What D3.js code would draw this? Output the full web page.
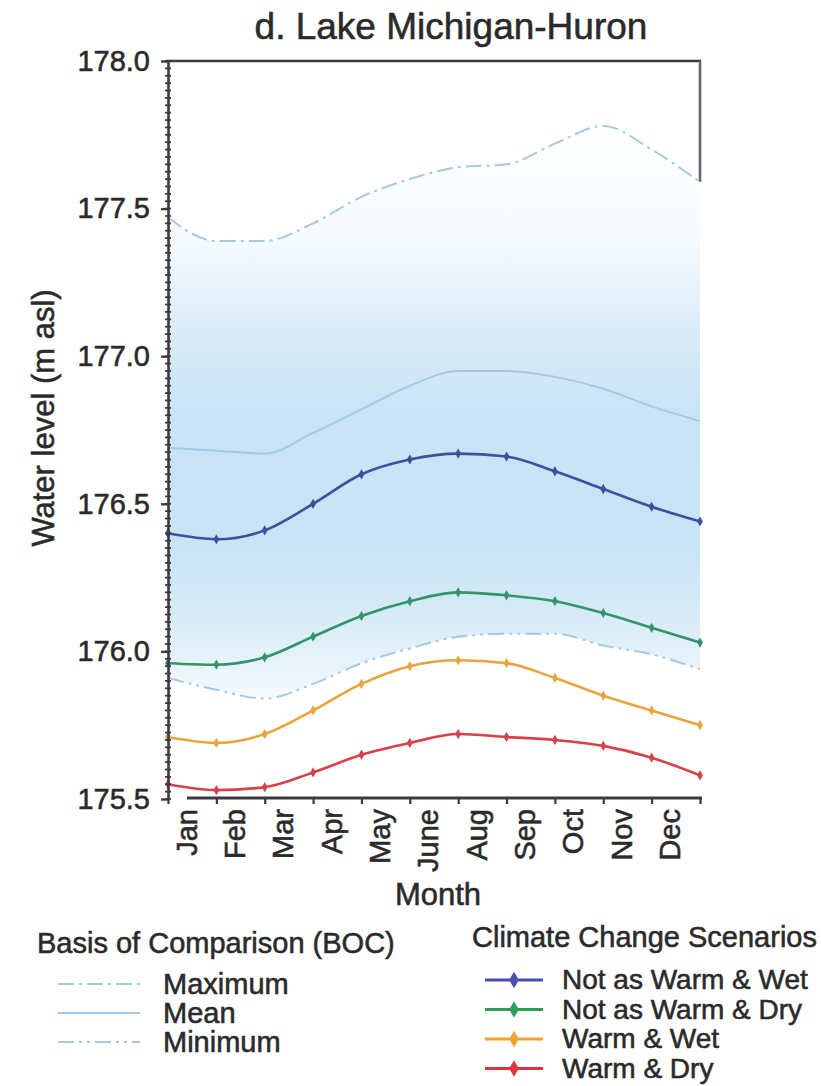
<!DOCTYPE html>
<html>
<head>
<meta charset="utf-8">
<script src="https://cdn.jsdelivr.net/npm/d3@7"></script>
<style>
  html, body { margin: 0; padding: 0; background: #ffffff; }
  svg { display: block; font-family: "Liberation Sans", Arial, Helvetica, sans-serif; }
  .lbl { stroke: #2a2a2a; stroke-width: 0.55px; paint-order: stroke; }
</style>
</head>
<body>
<svg id="chart" width="821" height="1086"></svg>
<script>
// Monthly water levels, Lake Michigan-Huron (m above sea level)
const months = ["Jan", "Feb", "Mar", "Apr", "May", "June", "July", "Aug", "Sep", "Oct", "Nov", "Dec"];
// Month labels as printed along the x axis
const tickLabels = ["Jan", "Feb", "Mar", "Apr", "May", "June", "Aug", "Sep", "Oct", "Nov", "Dec", ""];
const yTicks = [175.5, 176.0, 176.5, 177.0, 177.5, 178.0];

// Basis of Comparison (BOC)
const bocMax  = [177.47, 177.39, 177.39, 177.45, 177.54, 177.60, 177.64, 177.65, 177.72, 177.78, 177.70, 177.59];
const bocMean = [176.69, 176.68, 176.67, 176.74, 176.82, 176.90, 176.95, 176.95, 176.93, 176.89, 176.83, 176.78];
const bocMin  = [175.91, 175.87, 175.84, 175.89, 175.96, 176.01, 176.05, 176.06, 176.06, 176.02, 175.99, 175.94];

// Climate change scenarios
const notWarmWet = [176.40, 176.38, 176.41, 176.50, 176.60, 176.65, 176.67, 176.66, 176.61, 176.55, 176.49, 176.44];
const notWarmDry = [175.96, 175.955, 175.98, 176.05, 176.12, 176.17, 176.20, 176.19, 176.17, 176.13, 176.08, 176.03];
const warmWet    = [175.71, 175.69, 175.72, 175.80, 175.89, 175.95, 175.97, 175.96, 175.91, 175.85, 175.80, 175.75];
const warmDry    = [175.55, 175.53, 175.54, 175.59, 175.65, 175.69, 175.72, 175.71, 175.70, 175.68, 175.64, 175.58];

const bocNames = ["Maximum", "Mean", "Minimum"];
const scenarioNames = ["Not as Warm & Wet", "Not as Warm & Dry", "Warm & Wet", "Warm & Dry"];

// ---- styles ----
const scenarioColors = ["#3f4f9f", "#33946a", "#eaa43c", "#d9404a"];
const legendColors   = ["#4a4db3", "#2f9c5a", "#f0a332", "#e0333d"];
const bocColor = "#a3c9e4";
const bocDash = ["16,5,3,5", null, "16,5,3,5,3,5"];
const textColor = "#2a2a2a";
const frameColor = "#3c3a3e";

const svg = d3.select("#chart");
const plot = { left: 168, right: 700, top: 61, bottom: 799 };

const x = d3.scalePoint().domain(months).range([plot.left, plot.right]);
const y = d3.scaleLinear().domain([175.5, 178.0]).range([plot.bottom, plot.top]);

// ---- band gradient ----
const defs = svg.append("defs");
const grad = defs.append("linearGradient")
  .attr("id", "bocBand")
  .attr("gradientUnits", "userSpaceOnUse")
  .attr("x1", 0).attr("x2", 0)
  .attr("y1", y(177.8)).attr("y2", y(175.85));
[
  [0.00, "#ffffff"], [0.20, "#f6fbfe"], [0.30, "#e6f2fb"], [0.40, "#d5e9f7"],
  [0.50, "#cae4f6"], [0.72, "#c7e3f5"], [0.85, "#d5eaf7"], [0.94, "#e7f3fa"], [1.00, "#f4f9fd"]
].forEach(([o, c]) => grad.append("stop").attr("offset", o).attr("stop-color", c));

// ---- frame: top border and upper part of right border ----
svg.append("line")
  .attr("x1", plot.left - 2).attr("x2", plot.right + 1)
  .attr("y1", plot.top).attr("y2", plot.top)
  .attr("stroke", frameColor).attr("stroke-width", 2.6);
svg.append("line")
  .attr("x1", plot.right).attr("x2", plot.right)
  .attr("y1", plot.top).attr("y2", y(bocMax[bocMax.length - 1]))
  .attr("stroke", "#6a6470").attr("stroke-width", 2.6);

// ---- BOC envelope ----
const band = d3.area()
  .x((d, i) => x(months[i]))
  .y0((d, i) => y(bocMin[i]))
  .y1(d => y(d))
  .curve(d3.curveMonotoneX);
svg.append("path")
  .datum(bocMax)
  .attr("d", band)
  .attr("fill", "url(#bocBand)");

const line = d3.line()
  .x((d, i) => x(months[i]))
  .y(d => y(d))
  .curve(d3.curveMonotoneX);

[bocMax, bocMean, bocMin].forEach((s, k) => {
  svg.append("path")
    .datum(s)
    .attr("d", line)
    .attr("fill", "none")
    .attr("stroke", bocColor)
    .attr("stroke-width", 2)
    .attr("stroke-dasharray", bocDash[k]);
});

// ---- scenario lines with markers ----
const diamond = d3.symbol().type(d3.symbolDiamond);
[notWarmWet, notWarmDry, warmWet, warmDry].forEach((s, k) => {
  const g = svg.append("g");
  g.append("path")
    .datum(s)
    .attr("d", line)
    .attr("fill", "none")
    .attr("stroke", scenarioColors[k])
    .attr("stroke-width", 2.6);
  g.selectAll("path.pt")
    .data(s)
    .join("path")
    .attr("class", "pt")
    .attr("d", diamond.size(30))
    .attr("transform", (d, i) => `translate(${x(months[i])},${y(d)})`)
    .attr("fill", scenarioColors[k]);
});

// ---- y axis ----
const yAxisG = svg.append("g").attr("transform", `translate(${plot.left},0)`);
yAxisG.call(
  d3.axisLeft(y).tickValues(yTicks).tickFormat(d3.format(".1f"))
    .tickSizeInner(7).tickSizeOuter(0).tickPadding(11)
);
yAxisG.select(".domain").attr("stroke", frameColor).attr("stroke-width", 2.6);
yAxisG.selectAll(".tick line").attr("stroke", frameColor).attr("stroke-width", 2.4);
yAxisG.selectAll(".tick text")
  .attr("class", "lbl")
  .attr("font-size", 29).attr("fill", textColor)
  .attr("font-family", "Liberation Sans, Arial, sans-serif");

// minor ticks crossing the axis
const minorTicks = d3.range(175.5, 178.0001, 0.025);
svg.append("g")
  .selectAll("line")
  .data(minorTicks)
  .join("line")
  .attr("x1", plot.left - 3).attr("x2", plot.left + 3)
  .attr("y1", d => y(d)).attr("y2", d => y(d))
  .attr("stroke", frameColor).attr("stroke-width", 1.8);

// ---- x axis ----
const xAxisG = svg.append("g").attr("transform", `translate(0,${plot.bottom - 1})`);
xAxisG.call(
  d3.axisBottom(x).tickValues(months)
    .tickFormat((d, i) => tickLabels[i])
    .tickSizeInner(6).tickSizeOuter(0)
);
xAxisG.select(".domain")
  .attr("d", `M${plot.left + 19},0H${plot.right + 2}`)
  .attr("stroke", frameColor).attr("stroke-width", 2.8);
xAxisG.selectAll(".tick line").attr("stroke", frameColor).attr("stroke-width", 2.2);
xAxisG.selectAll(".tick text")
  .attr("class", "lbl")
  .attr("font-size", 29).attr("fill", textColor)
  .attr("font-family", "Liberation Sans, Arial, sans-serif")
  .attr("text-anchor", "end")
  .attr("transform", "rotate(-90)")
  .attr("x", -11).attr("y", 28).attr("dy", 0);

// ---- titles ----
svg.append("text")
  .attr("class", "lbl")
  .attr("x", 451).attr("y", 39)
  .attr("text-anchor", "middle")
  .attr("font-size", 37).attr("fill", textColor)
  .text("d. Lake Michigan-Huron");

svg.append("text")
  .attr("class", "lbl")
  .attr("transform", "translate(54,418) rotate(-90)")
  .attr("text-anchor", "middle")
  .attr("font-size", 31).attr("fill", textColor)
  .text("Water level (m asl)");

svg.append("text")
  .attr("class", "lbl")
  .attr("x", 438).attr("y", 905)
  .attr("text-anchor", "middle")
  .attr("font-size", 31).attr("fill", textColor)
  .text("Month");

// ---- legends ----
svg.append("text")
  .attr("class", "lbl")
  .attr("x", 37).attr("y", 953)
  .attr("font-size", 29).attr("fill", textColor)
  .text("Basis of Comparison (BOC)");

const bocRows = svg.append("g").selectAll("g")
  .data(bocNames)
  .join("g")
  .attr("transform", (d, i) => `translate(0,${984 + i * 29})`);
bocRows.append("line")
  .attr("x1", 58).attr("x2", 140)
  .attr("stroke", bocColor).attr("stroke-width", 2)
  .attr("stroke-dasharray", (d, i) => bocDash[i]);
bocRows.append("text")
  .attr("class", "lbl")
  .attr("x", 163).attr("y", 10)
  .attr("font-size", 29).attr("fill", textColor)
  .text(d => d);

svg.append("text")
  .attr("class", "lbl")
  .attr("x", 472).attr("y", 947)
  .attr("font-size", 29).attr("fill", textColor)
  .text("Climate Change Scenarios");

const scRows = svg.append("g").selectAll("g")
  .data(scenarioNames)
  .join("g")
  .attr("transform", (d, i) => `translate(0,${980 + i * 29.5})`);
scRows.append("line")
  .attr("x1", 485).attr("x2", 543)
  .attr("stroke", (d, i) => legendColors[i]).attr("stroke-width", 3);
scRows.append("path")
  .attr("d", diamond.size(80))
  .attr("transform", "translate(514,0)")
  .attr("fill", (d, i) => legendColors[i]);
scRows.append("text")
  .attr("class", "lbl")
  .attr("x", 562).attr("y", 9)
  .attr("font-size", 28).attr("fill", textColor)
  .text(d => d);
</script>
</body>
</html>
